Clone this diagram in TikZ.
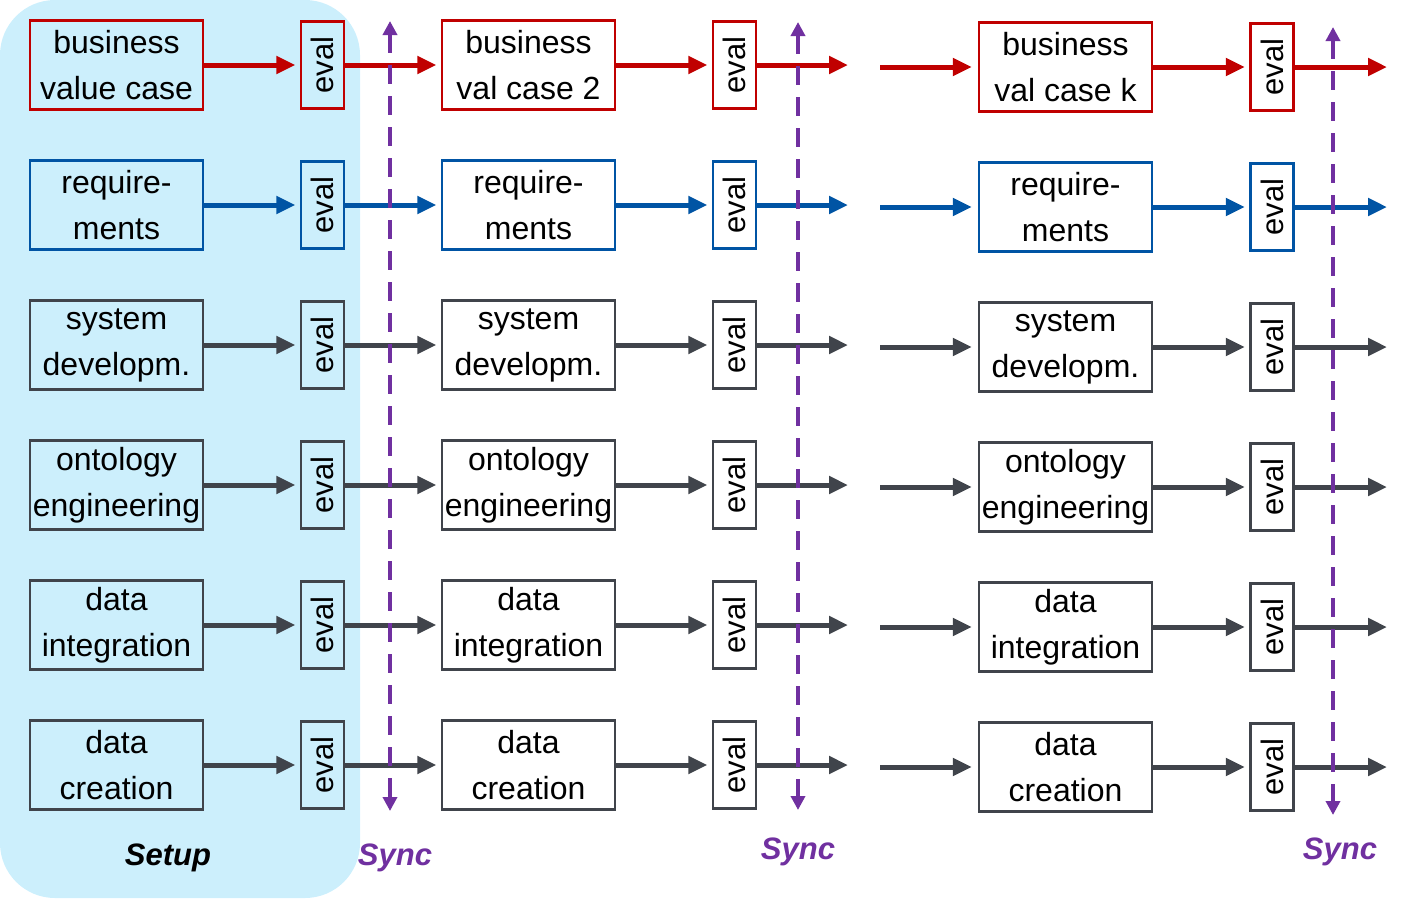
\documentclass[tikz,border=0pt]{standalone}
\usepackage{fontspec}
\setmainfont{Liberation Sans}
\usepackage{graphicx}
\usetikzlibrary{arrows.meta}
\definecolor{cred}{RGB}{192,0,0}
\definecolor{cblue}{RGB}{0,84,164}
\definecolor{cgray}{RGB}{64,68,75}
\definecolor{cpurple}{RGB}{112,48,160}
\definecolor{cbg}{RGB}{204,239,252}
\begin{document}
\begin{tikzpicture}[x=1pt,y=-1pt,
  bigbox/.style={draw=#1, line width=2.2pt, minimum width=173pt, minimum height=89pt,
    inner sep=0pt, align=center, font=\fontsize{32}{46}\selectfont},
  evalbox/.style={draw=#1, line width=2.2pt, minimum width=43pt, minimum height=87pt,
    inner sep=0pt, font=\fontsize{31}{36}\selectfont},
  flow/.style={draw=#1, line width=5pt, -{Triangle[length=19pt,width=17pt]}, shorten >=4.5pt},
  freeflow/.style={draw=#1, line width=5pt, -{Triangle[length=19pt,width=17pt]}},
  sync/.style={draw=cpurple, line width=4.5pt, dash pattern=on 19pt off 12pt,
    {Triangle[length=14pt,width=14pt]}-{Triangle[length=14pt,width=14pt]}},
  synclabel/.style={text=cpurple, font=\fontsize{31}{36}\selectfont\bfseries\itshape},
  setuplabel/.style={text=black, font=\fontsize{31}{36}\selectfont\bfseries\itshape}
]
\useasboundingbox (0,0) rectangle (1406,898);
\fill[cbg, rounded corners=55pt] (0,0) rectangle (360,898);

\foreach \i/\ta/\tb/\tc/\col in {
  0/{business\\value case}/{business\\val case 2}/{business\\val case k}/cred,
  1/{require-\\ments}/{require-\\ments}/{require-\\ments}/cblue,
  2/{system\\developm.}/{system\\developm.}/{system\\developm.}/cgray,
  3/{ontology\\engineering}/{ontology\\engineering}/{ontology\\engineering}/cgray,
  4/{data\\integration}/{data\\integration}/{data\\integration}/cgray,
  5/{data\\creation}/{data\\creation}/{data\\creation}/cgray}
{
  \pgfmathsetmacro\ya{65+140*\i}
  \pgfmathsetmacro\yc{67+140*\i}
  \node[bigbox=\col] (a\i) at (116.5,\ya) {\ta};
  \node[evalbox=\col] (e\i) at (322.5,\ya) {\rotatebox{90}{eval}};
  \node[bigbox=\col] (b\i) at (528.5,\ya) {\tb};
  \node[evalbox=\col] (f\i) at (734.5,\ya) {\rotatebox{90}{eval}};
  \coordinate (g\i) at (848,\ya);
  \coordinate (h\i) at (880,\yc);
  \node[bigbox=\col] (c\i) at (1065.5,\yc) {\tc};
  \node[evalbox=\col] (k\i) at (1272,\yc) {\rotatebox{90}{eval}};
  \coordinate (m\i) at (1387,\yc);
  \draw[flow=\col] (a\i.east) -- (e\i.west);
  \draw[flow=\col] (e\i.east) -- (b\i.west);
  \draw[flow=\col] (b\i.east) -- (f\i.west);
  \draw[freeflow=\col] (f\i.east) -- (g\i);
  \draw[flow=\col, shorten >=6pt] (h\i) -- (c\i.west);
  \draw[flow=\col] (c\i.east) -- (k\i.west);
  \draw[freeflow=\col] (k\i.east) -- (m\i);
}

\coordinate (s1t) at (390,21);
\coordinate (s1b) at (390,811);
\coordinate (s2t) at (798,22);
\coordinate (s2b) at (798,810);
\coordinate (s3t) at (1333,27);
\coordinate (s3b) at (1333,815);
\draw[sync] (s1t) -- (s1b);
\draw[sync] (s2t) -- (s2b);
\draw[sync] (s3t) -- (s3b);

\node[setuplabel] (setup) at (168,858) {Setup};
\node[synclabel] (sync1) at (395,858) {Sync};
\node[synclabel] (sync2) at (798,852) {Sync};
\node[synclabel] (sync3) at (1340,852) {Sync};
\end{tikzpicture}
\end{document}
